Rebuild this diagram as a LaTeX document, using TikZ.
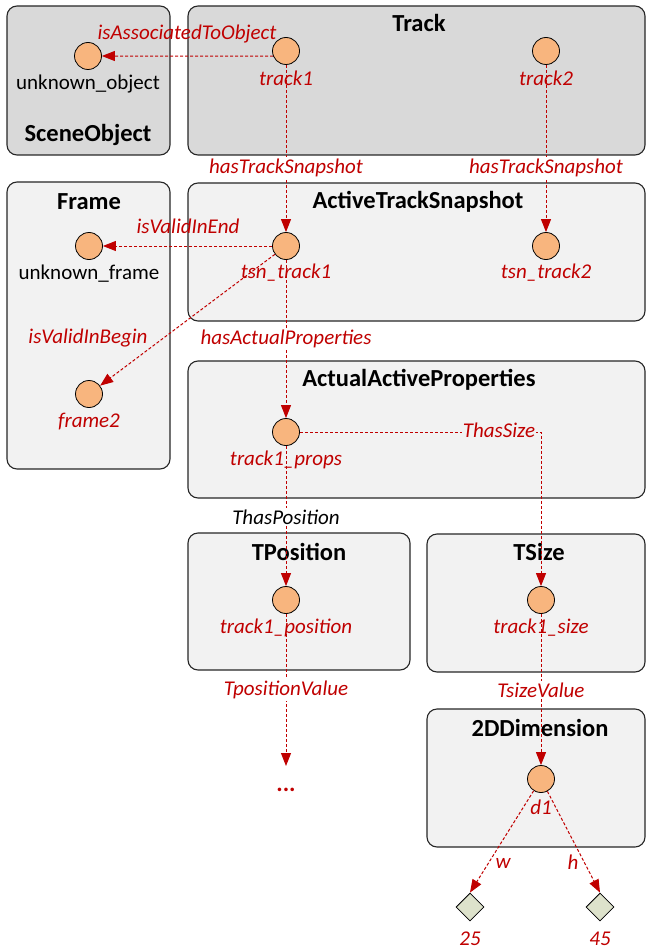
\documentclass[tikz,border=0pt]{standalone}
\usepackage{fontspec}
\setmainfont{Carlito}
\usetikzlibrary{arrows.meta,shapes.geometric}
\definecolor{dkred}{HTML}{C00000}
\definecolor{boxdark}{HTML}{D9D9D9}
\definecolor{boxlight}{HTML}{F2F2F2}
\definecolor{orangefill}{HTML}{F8B57E}
\definecolor{diafill}{HTML}{DDE2CB}
\begin{document}
\begin{tikzpicture}[x=1pt,y=-1pt,
  classbox/.style={draw=black!85,line width=1.1pt,rounded corners=10pt},
  title/.style={font=\fontsize{24.5}{24.5}\selectfont\bfseries,text=black},
  inst/.style={circle,draw=black,line width=0.8pt,fill=orangefill,minimum size=27pt,inner sep=0pt},
  lit/.style={diamond,draw=black,line width=0.8pt,fill=diafill,minimum width=28pt,minimum height=28pt,inner sep=0pt},
  lbl/.style={font=\fontsize{21}{21}\selectfont\itshape,text=dkred,inner sep=1pt},
  blbl/.style={font=\fontsize{21}{21}\selectfont,text=black,inner sep=1pt},
  rel/.style={draw=dkred,line width=1pt,dash pattern=on 3pt off 2pt,-{Triangle[length=13pt,width=10pt]}},
  wlbl/.style={lbl,fill=white,inner sep=2pt},
  glbl/.style={lbl,fill=boxlight,inner sep=1pt}
]
\useasboundingbox (0,0) rectangle (646,952);
% boxes
\path[classbox,fill=boxdark] (7,6) rectangle (170,155);
\path[classbox,fill=boxdark] (188,6) rectangle (645,155);
\path[classbox,fill=boxlight] (7,182) rectangle (170,469);
\path[classbox,fill=boxlight] (188,183) rectangle (645,321);
\path[classbox,fill=boxlight] (188,361) rectangle (645,498);
\path[classbox,fill=boxlight] (188,533) rectangle (410,670);
\path[classbox,fill=boxlight] (427,534) rectangle (645,672);
\path[classbox,fill=boxlight] (427,709) rectangle (645,847);
% titles
\node[title] (tSO) at (88,135) {SceneObject};
\node[title] (tTr) at (419,23) {Track};
\node[title] (tFr) at (89,202) {Frame};
\node[title] (tATS) at (418,202) {ActiveTrackSnapshot};
\node[title] (tAAP) at (419,380) {ActualActiveProperties};
\node[title] (tTP) at (299,552) {TPosition};
\node[title] (tTS) at (539,552) {TSize};
\node[title] (tDD) at (540,728) {2DDimension};
% instances
\node[inst] (obj) at (88,56) {};
\node[inst] (tr1) at (286,51) {};
\node[inst] (tr2) at (546,51) {};
\node[inst] (ufr) at (89,246) {};
\node[inst] (tsn1) at (286,246) {};
\node[inst] (tsn2) at (546,246) {};
\node[inst] (fr2) at (89,394) {};
\node[inst] (props) at (286,432) {};
\node[inst] (pos) at (286,600) {};
\node[inst] (size) at (541,600) {};
\node[inst] (d1) at (541,779) {};
\node[lit] (l25) at (470,907) {};
\node[lit] (l45) at (600,907) {};
\node[text=dkred,font=\fontsize{24}{24}\selectfont\bfseries,inner sep=0pt] (dots) at (286,790) {...};
\coordinate (dotsend) at (286,766);
% relations
\draw[rel] (tr1.202) -- (obj.east);
\draw[rel] (tr1) -- (tsn1);
\draw[rel] (tr2) -- (tsn2);
\draw[rel] (tsn1) -- (ufr);
\draw[rel] (tsn1) -- (fr2);
\draw[rel] (tsn1) -- (props);
\draw[rel] (props.east) -| (size.north);
\draw[rel] (props) -- (pos);
\draw[rel] (pos) -- (dotsend);
\draw[rel] (size) -- (d1);
\draw[rel] (d1) -- (l25.north);
\draw[rel] (d1) -- (l45.north);
% instance labels
\node[blbl] (Lobj) at (88,84) {unknown\_object};
\node[lbl] (Ltr1) at (286,78) {track1};
\node[lbl] (Ltr2) at (546,78) {track2};
\node[blbl] (Lufr) at (89,274) {unknown\_frame};
\node[lbl] (Ltsn1) at (286,273) {tsn\_track1};
\node[lbl] (Ltsn2) at (546,273) {tsn\_track2};
\node[lbl] (Lfr2) at (89,422) {frame2};
\node[lbl] (Lprops) at (286,460) {track1\_props};
\node[lbl] (Lpos) at (286,628) {track1\_position};
\node[lbl] (Lsize) at (541,628) {track1\_size};
\node[lbl] (Ld1) at (541,807) {d1};
\node[lbl] (L25) at (470,939) {25};
\node[lbl] (L45) at (600,939) {45};
% relation labels
\node[lbl] (rAss) at (187,34) {isAssociatedToObject};
\node[wlbl] (rHTS1) at (286,168) {hasTrackSnapshot};
\node[wlbl] (rHTS2) at (546,168) {hasTrackSnapshot};
\node[lbl] (rEnd) at (188,226) {isValidInEnd};
\node[lbl] (rBeg) at (88,338) {isValidInBegin};
\node[wlbl] (rHAP) at (286,339) {hasActualProperties};
\node[glbl] (rSize) at (499,430) {ThasSize};
\node[wlbl,text=black] (rPos) at (286,517) {ThasPosition};
\node[wlbl] (rTPV) at (286,690) {TpositionValue};
\node[wlbl] (rTSV) at (541,690) {TsizeValue};
\node[wlbl,inner sep=1pt] (rW) at (503,863) {w};
\node[wlbl,inner sep=1pt] (rH) at (573,862) {h};
\end{tikzpicture}
\end{document}
